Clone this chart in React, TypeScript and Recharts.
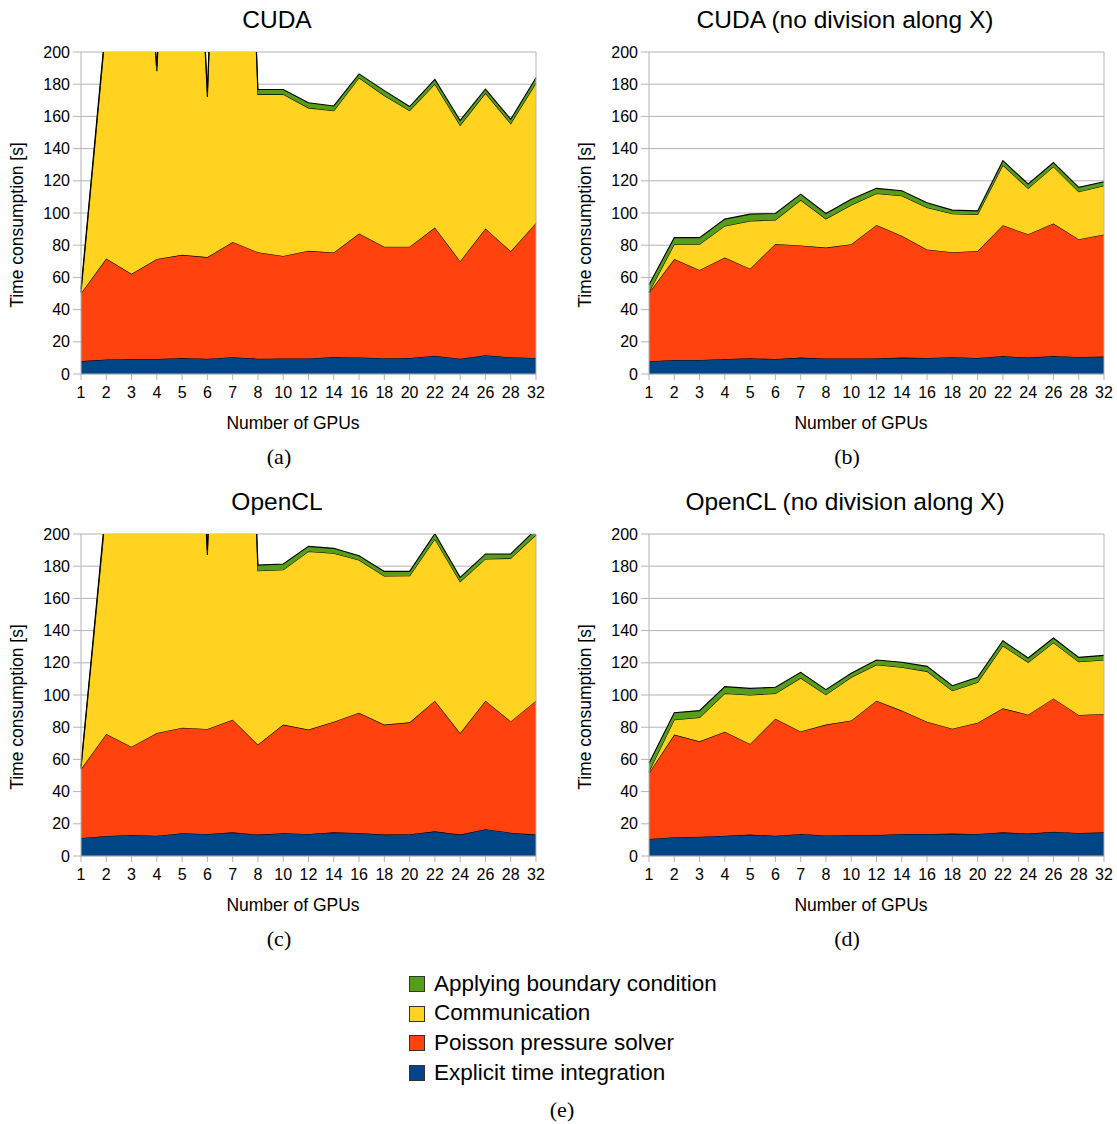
import React from 'react';
import { AreaChart, Area, XAxis, YAxis, CartesianGrid, ReferenceLine } from 'recharts';

// ---------- categories / ticks ----------
const GPUS = ['1', '2', '3', '4', '5', '6', '7', '8', '10', '12', '14', '16', '18', '20', '22', '24', '26', '28', '32'];
const Y_TICKS = [0, 20, 40, 60, 80, 100, 120, 140, 160, 180, 200];

// ---------- series (bottom to top) ----------
const SERIES_KEYS = ['explicit', 'poisson', 'comm', 'boundary'];
const SERIES_NAMES = ['Explicit time integration', 'Poisson pressure solver', 'Communication', 'Applying boundary condition'];
const SERIES_COLORS = ['#004586', '#ff420e', '#ffd320', '#579d1c'];

// (a) CUDA
const cudaExplicit = [8, 9, 9.3, 9.3, 10, 9.5, 10.4, 9.5, 9.6, 9.6, 10.6, 10.3, 9.8, 9.9, 11.3, 9.5, 11.6, 10.4, 9.9];
const cudaPoisson = [42.2, 62.7, 52.9, 62.1, 64, 63.1, 71.6, 66.1, 63.7, 66.9, 64.9, 76.9, 69.2, 69.1, 79.7, 60.6, 78.8, 65.9, 83.9];
const cudaComm = [0.5, 146.3, 337.8, 116.6, 426, 99.4, 518, 98.1, 100.4, 88.8, 88, 96.8, 94, 84.6, 89.2, 84.4, 84.1, 79.3, 87];
const cudaBoundary = [2, 3, 3, 3, 3, 3, 3, 3, 3, 3.2, 3, 2.4, 3, 2.5, 2.8, 3, 2.5, 2.6, 3.2];

// (b) CUDA (no division along X)
const cudaNdExplicit = [7.9, 8.7, 8.7, 9.3, 9.8, 9.3, 10.2, 9.6, 9.6, 9.8, 10.2, 10, 10.4, 10, 11.2, 10.2, 11.2, 10.6, 10.8];
const cudaNdPoisson = [42.6, 62.7, 55.9, 63, 55.6, 71.5, 69.6, 68.9, 71, 82.8, 75.6, 67.3, 65.2, 66.4, 81.2, 76.6, 82.3, 73.1, 75.8];
const cudaNdComm = [0.5, 9.2, 16, 19.7, 29.7, 14.9, 28.2, 17.9, 24.3, 19.5, 24.9, 26.1, 23.9, 22.7, 37.4, 28.5, 35.3, 29.5, 30.3];
const cudaNdBoundary = [4.5, 4.1, 4.1, 4.2, 4.2, 4, 3.7, 3.3, 3.7, 3.2, 3.1, 2.9, 2.3, 2.2, 2.7, 2.7, 2.5, 2.7, 2.5];

// (c) OpenCL
const oclExplicit = [11.2, 12.4, 13, 12.6, 14.1, 13.7, 14.7, 13.3, 14.1, 13.7, 14.7, 14.3, 13.3, 13.5, 15.3, 13.3, 16.6, 14.5, 13.3];
const oclPoisson = [42.8, 63.4, 54.9, 63.8, 65.6, 65.2, 70, 55.9, 67.5, 64.8, 68.7, 74.7, 68.3, 69.5, 81.2, 63.1, 79.9, 69.1, 83.2];
const oclComm = [0.5, 141.2, 332.1, 343.6, 420.3, 108.1, 515.3, 108, 96.2, 110.7, 104.6, 94.9, 92.3, 91.1, 100.4, 94, 88, 101.3, 103];
const oclBoundary = [1.5, 3, 3, 3, 3, 3, 3, 3.5, 3.6, 3.1, 3.1, 2.6, 2.9, 2.7, 3.3, 2.7, 3.1, 2.7, 3.5];

// (d) OpenCL (no division along X)
const oclNdExplicit = [10.6, 11.6, 12, 12.6, 13.3, 12.6, 13.7, 12.8, 13, 13, 13.7, 13.7, 13.9, 13.7, 14.7, 13.9, 15.1, 14.3, 14.7];
const oclNdPoisson = [41, 63.8, 59.2, 64.6, 56.3, 72.7, 63.7, 68.8, 71.1, 83.5, 76.6, 69.7, 65.2, 69.1, 77, 73.9, 82.8, 73.3, 73.5];
const oclNdComm = [0.9, 9.3, 14.9, 23.8, 30.4, 15.7, 33.2, 18.6, 26.9, 22.3, 26.9, 31.3, 23.6, 25.1, 38.9, 32.5, 34.6, 33.1, 33.5];
const oclNdBoundary = [5.1, 4.3, 4.2, 4.2, 4.1, 3.8, 3.5, 3.1, 2.5, 2.9, 3.1, 3.1, 3.1, 3.1, 3.1, 2.7, 2.9, 2.7, 2.9];

const build = (e: number[], p: number[], c: number[], b: number[]) =>
  GPUS.map((g, i) => ({ gpus: g, explicit: e[i], poisson: p[i], comm: c[i], boundary: b[i] }));

const PANELS = [
  { title: 'CUDA', caption: '(a)', left: 0, top: 0, data: build(cudaExplicit, cudaPoisson, cudaComm, cudaBoundary) },
  { title: 'CUDA (no division along X)', caption: '(b)', left: 568, top: 0, data: build(cudaNdExplicit, cudaNdPoisson, cudaNdComm, cudaNdBoundary) },
  { title: 'OpenCL', caption: '(c)', left: 0, top: 482, data: build(oclExplicit, oclPoisson, oclComm, oclBoundary) },
  { title: 'OpenCL (no division along X)', caption: '(d)', left: 568, top: 482, data: build(oclNdExplicit, oclNdPoisson, oclNdComm, oclNdBoundary) },
];

const SANS = '"Liberation Sans", Arial, sans-serif';
const SERIF = '"Liberation Serif", "Times New Roman", serif';
const GRID = '#b3b3b3';

const centered = (x: number, y: number, extra: React.CSSProperties = {}): React.CSSProperties => ({
  position: 'absolute',
  left: x,
  top: y,
  transform: 'translate(-50%, -50%)',
  whiteSpace: 'nowrap',
  lineHeight: 1,
  ...extra,
});

function Panel({ title, caption, left, top, data }: any) {
  return (
    <div style={{ position: 'absolute', left, top, width: 560, height: 480 }}>
      <div style={centered(277, 20, { fontSize: 24.5, fontFamily: SANS, color: '#000' })}>{title}</div>
      <AreaChart
        width={551}
        height={444}
        data={data}
        margin={{ top: 52, right: 15, left: 0, bottom: 40 }}
        style={{ position: 'absolute', left: 0, top: 0 }}
      >
        <CartesianGrid vertical={false} stroke={GRID} strokeWidth={1} />
        <XAxis
          dataKey="gpus"
          type="category"
          height={30}
          interval={0}
          tickSize={6}
          tickMargin={7}
          axisLine={{ stroke: GRID }}
          tickLine={{ stroke: GRID }}
          tick={{ fontSize: 16, fill: '#000', fontFamily: SANS }}
        />
        <YAxis
          width={81}
          domain={[0, 200]}
          ticks={Y_TICKS}
          allowDataOverflow
          interval={0}
          tickSize={8}
          tickMargin={3}
          axisLine={{ stroke: GRID }}
          tickLine={{ stroke: GRID }}
          tick={{ fontSize: 16, fill: '#000', fontFamily: SANS }}
        />
        <ReferenceLine x="32" stroke={GRID} />
        {SERIES_KEYS.map((k, i) => (
          <Area
            key={k}
            type="linear"
            dataKey={k}
            name={SERIES_NAMES[i]}
            stackId="s"
            fill={SERIES_COLORS[i]}
            fillOpacity={1}
            stroke="#000"
            strokeWidth={1.1}
            dot={false}
            activeDot={false}
            isAnimationActive={false}
          />
        ))}
      </AreaChart>
      <div style={centered(18, 225, { fontSize: 17.5, fontFamily: SANS, transform: 'translate(-50%, -50%) rotate(-90deg)' })}>
        Time consumption [s]
      </div>
      <div style={centered(293, 424, { fontSize: 17.5, fontFamily: SANS })}>Number of GPUs</div>
      <div style={centered(279, 457, { fontSize: 22, fontFamily: SERIF })}>{caption}</div>
    </div>
  );
}

export default function App() {
  const legendOrder = [3, 2, 1, 0];
  return (
    <div style={{ position: 'absolute', left: 0, top: 0, width: 1117, height: 1124, background: '#fff', fontFamily: SANS }}>
      {PANELS.map((p) => (
        <Panel key={p.caption} {...p} />
      ))}
      {legendOrder.map((si, row) => (
        <div key={si} style={{ position: 'absolute', left: 409, top: 984 + row * 29.6 - 12, height: 24, display: 'flex', alignItems: 'center' }}>
          <div style={{ width: 16, height: 16, background: SERIES_COLORS[si], border: '1px solid #333', boxSizing: 'border-box', marginRight: 9 }} />
          <span style={{ fontSize: 22.5, fontFamily: SANS, color: '#000', whiteSpace: 'nowrap', lineHeight: 1 }}>{SERIES_NAMES[si]}</span>
        </div>
      ))}
      <div style={centered(562, 1110, { fontSize: 22, fontFamily: SERIF })}>(e)</div>
    </div>
  );
}
